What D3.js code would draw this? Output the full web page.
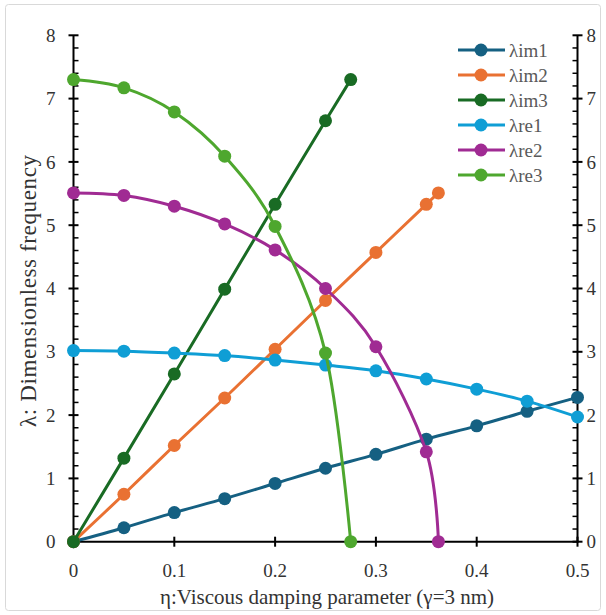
<!DOCTYPE html>
<html>
<head>
<meta charset="utf-8">
<script src="https://cdn.jsdelivr.net/npm/d3@7"></script>
<style>
  body { margin: 0; background: #fff; }
</style>
</head>
<body>
<svg width="606" height="615"></svg>
<script>
// data
var etaStd = [0, 0.05, 0.1, 0.15, 0.2, 0.25, 0.3, 0.35, 0.4, 0.45, 0.5];
var im1 = [0, 0.22, 0.46, 0.68, 0.92, 1.16, 1.38, 1.62, 1.83, 2.06, 2.28];
var re1 = [3.02, 3.01, 2.98, 2.94, 2.87, 2.79, 2.70, 2.57, 2.41, 2.22, 1.97];

var eta2 = [0, 0.05, 0.1, 0.15, 0.2, 0.25, 0.3, 0.35, 0.362];
var im2 = [0, 0.75, 1.52, 2.27, 3.04, 3.81, 4.57, 5.33, 5.51];
var re2 = [5.51, 5.47, 5.30, 5.02, 4.61, 4.00, 3.08, 1.42, 0];

var eta3 = [0, 0.05, 0.1, 0.15, 0.2, 0.25, 0.275];
var im3 = [0, 1.32, 2.65, 3.99, 5.33, 6.65, 7.30];
var re3 = [7.30, 7.17, 6.79, 6.09, 4.98, 2.98, 0];

var seriesNames = ["\u03bbim1", "\u03bbim2", "\u03bbim3", "\u03bbre1", "\u03bbre2", "\u03bbre3"];
var colors = ["#156082", "#E97132", "#196B24", "#0F9ED5", "#A02B93", "#4EA72E"];
var xTicks = [0, 0.1, 0.2, 0.3, 0.4, 0.5];
var yTicks = [0, 1, 2, 3, 4, 5, 6, 7, 8];

var series = [
  {name: seriesNames[0], x: etaStd, y: im1},
  {name: seriesNames[1], x: eta2, y: im2},
  {name: seriesNames[2], x: eta3, y: im3},
  {name: seriesNames[3], x: etaStd, y: re1},
  {name: seriesNames[4], x: eta2, y: re2},
  {name: seriesNames[5], x: eta3, y: re3}
];

var FONT = "Liberation Serif";
var svg = d3.select("svg");

// chart area border
svg.append("rect")
    .attr("x", 5.5).attr("y", 4.5)
    .attr("width", 595).attr("height", 606)
    .attr("rx", 3)
    .attr("fill", "#fff")
    .attr("stroke", "#d9d9d9")
    .attr("stroke-width", 1);

var x = d3.scaleLinear().domain([0, 0.5]).range([73.5, 577.5]);
var y = d3.scaleLinear().domain([0, 8]).range([541.7, 35.3]);

var minor = d3.range(0, 8.01, 0.2).filter(function(v) { return Math.abs(v - Math.round(v)) > 0.01; });

// left axis
var left = svg.append("g").attr("transform", "translate(" + x(0) + ",0)");
left.append("line").attr("y1", y(0)).attr("y2", y(8)).attr("stroke", "#000").attr("stroke-width", 2);
left.selectAll(".maj").data(yTicks).enter().append("line")
    .attr("x1", -5).attr("x2", 5)
    .attr("y1", function(d) { return y(d); }).attr("y2", function(d) { return y(d); })
    .attr("stroke", "#000").attr("stroke-width", 2);
left.selectAll(".min").data(minor).enter().append("line")
    .attr("x1", 0).attr("x2", 5)
    .attr("y1", function(d) { return y(d); }).attr("y2", function(d) { return y(d); })
    .attr("stroke", "#000").attr("stroke-width", 1.5);
left.selectAll("text").data(yTicks).enter().append("text")
    .attr("x", -18).attr("y", function(d) { return y(d); })
    .attr("dy", "0.35em").attr("text-anchor", "end")
    .attr("font-family", FONT)
    .attr("font-size", 19).attr("fill", "#333")
    .text(function(d) { return d; });

// right axis
var right = svg.append("g").attr("transform", "translate(" + x(0.5) + ",0)");
right.append("line").attr("y1", y(0)).attr("y2", y(8)).attr("stroke", "#000").attr("stroke-width", 2);
right.selectAll(".maj").data(yTicks).enter().append("line")
    .attr("x1", -5).attr("x2", 5)
    .attr("y1", function(d) { return y(d); }).attr("y2", function(d) { return y(d); })
    .attr("stroke", "#000").attr("stroke-width", 2);
right.selectAll(".min").data(minor).enter().append("line")
    .attr("x1", -5).attr("x2", 0)
    .attr("y1", function(d) { return y(d); }).attr("y2", function(d) { return y(d); })
    .attr("stroke", "#000").attr("stroke-width", 1.5);
right.selectAll("text").data(yTicks).enter().append("text")
    .attr("x", 9).attr("y", function(d) { return y(d); })
    .attr("dy", "0.35em").attr("text-anchor", "start")
    .attr("font-family", FONT)
    .attr("font-size", 19).attr("fill", "#333")
    .text(function(d) { return d; });

// bottom axis
var bottom = svg.append("g").attr("transform", "translate(0," + y(0) + ")");
bottom.append("line").attr("x1", x(0) - 1).attr("x2", x(0.5) + 1).attr("stroke", "#000").attr("stroke-width", 2);
bottom.selectAll(".maj").data(xTicks).enter().append("line")
    .attr("x1", function(d) { return x(d); }).attr("x2", function(d) { return x(d); })
    .attr("y1", -5).attr("y2", 5)
    .attr("stroke", "#000").attr("stroke-width", 2);
bottom.selectAll("text").data(xTicks).enter().append("text")
    .attr("x", function(d) { return x(d); }).attr("y", 35)
    .attr("text-anchor", "middle")
    .attr("font-family", FONT)
    .attr("font-size", 19).attr("fill", "#333")
    .text(function(d) { return d; });

// axis titles
svg.append("text")
    .attr("x", 327).attr("y", 604)
    .attr("text-anchor", "middle").attr("font-size", 21).attr("fill", "#333")
    .attr("font-family", FONT)
    .text("\u03b7:Viscous damping parameter (\u03b3=3 nm)");
svg.append("text")
    .attr("transform", "translate(36,291) rotate(-90)")
    .attr("text-anchor", "middle").attr("font-size", 23).attr("fill", "#333")
    .attr("font-family", FONT)
    .attr("textLength", 272).attr("lengthAdjust", "spacing")
    .text("\u03bb: Dimensionless frequency");

// series
var line = d3.line()
    .x(function(d) { return x(d[0]); })
    .y(function(d) { return y(d[1]); })
    .curve(d3.curveCatmullRom.alpha(0));

series.forEach(function(s, i) {
  var pts = s.x.map(function(v, j) { return [v, s.y[j]]; });
  var g = svg.append("g");
  g.append("path").datum(pts)
      .attr("fill", "none").attr("stroke", colors[i]).attr("stroke-width", 3)
      .attr("stroke-linejoin", "round").attr("d", line);
  g.selectAll("circle").data(pts).enter().append("circle")
      .attr("cx", function(d) { return x(d[0]); })
      .attr("cy", function(d) { return y(d[1]); })
      .attr("r", 6.5).attr("fill", colors[i]);
});

// legend
var legend = svg.append("g");
series.forEach(function(s, i) {
  var ly = 50 + i * 25;
  legend.append("line").attr("x1", 458).attr("x2", 505).attr("y1", ly).attr("y2", ly)
      .attr("stroke", colors[i]).attr("stroke-width", 3);
  legend.append("circle").attr("cx", 481).attr("cy", ly).attr("r", 6.5).attr("fill", colors[i]);
  legend.append("text").attr("x", 509).attr("y", ly).attr("dy", "0.35em")
      .attr("font-family", FONT)
      .attr("font-size", 19).attr("fill", "#595959").text(s.name);
});
</script>
</body>
</html>
